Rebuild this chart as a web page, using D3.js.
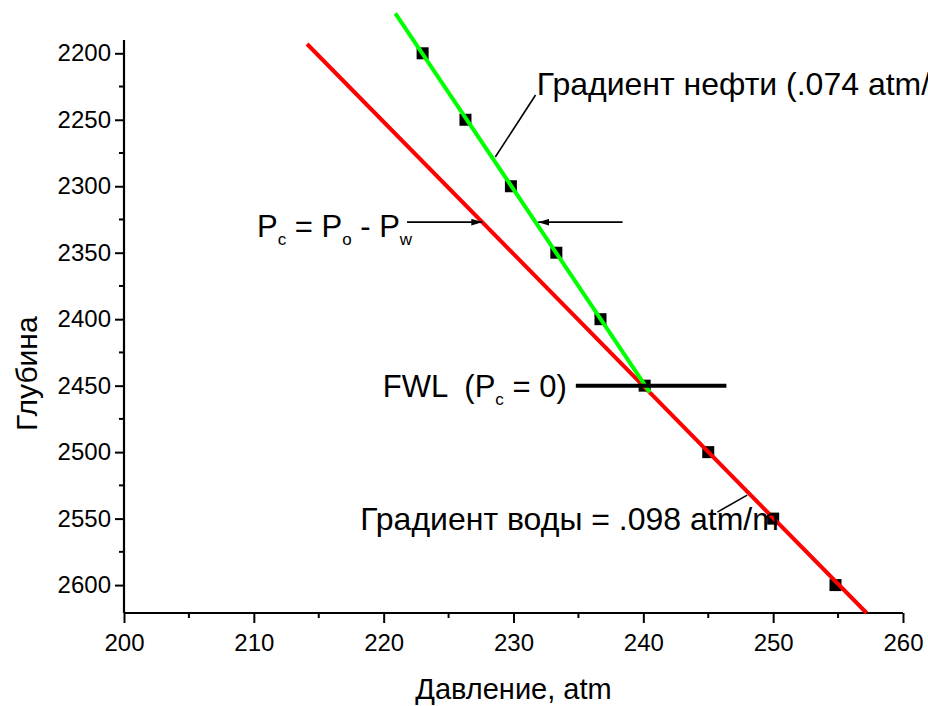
<!DOCTYPE html>
<html><head><meta charset="utf-8">
<script src="https://cdn.jsdelivr.net/npm/d3@7"></script>
<style>
html,body{margin:0;padding:0;background:#fff;overflow:hidden}
text{font-family:"Liberation Sans",Arial,sans-serif;fill:#000}
</style></head>
<body>
<svg id="c" width="928" height="706"></svg>
<script>
// ---- data ----
const depths    = [2200, 2250, 2300, 2350, 2400, 2450, 2500, 2550, 2600];
const pressures = [223.0, 226.3, 229.8, 233.3, 236.7, 240.1, 245.0, 250.0, 254.8];
const oilLineP   = [220.9, 240.5];
const oilLineD   = [2170, 2455];
const waterLineP = [214.1, 257.2];
const waterLineD = [2193, 2621];
const xTicks = [200, 210, 220, 230, 240, 250, 260];
const yTicks = [2200, 2250, 2300, 2350, 2400, 2450, 2500, 2550, 2600];
const xTitle = "Давление, atm";
const yTitle = "Глубина";
const oilLabel = "Градиент нефти (.074 atm/m)";
const waterLabel = "Градиент воды = .098 atm/m";

const svg = d3.select("#c");
const x = d3.scaleLinear().domain([200, 260]).range([124, 903]);
const y = d3.scaleLinear().domain([2190, 2621]).range([40, 613]);

// axes
const xAxis = d3.axisBottom(x).tickValues(xTicks).tickFormat(d3.format("d")).tickSize(10).tickPadding(11);
const yAxis = d3.axisLeft(y).tickValues(yTicks).tickFormat(d3.format("d")).tickSize(9).tickPadding(4);
const gx = svg.append("g").attr("transform", `translate(0,${y(2621)})`).call(xAxis);
const gy = svg.append("g").attr("transform", `translate(${x(200)},0)`).call(yAxis);
[gx, gy].forEach(g => {
  g.select(".domain").attr("stroke", "#000").attr("stroke-width", 2.2);
  g.selectAll(".tick line").attr("stroke", "#000").attr("stroke-width", 2);
  g.selectAll(".tick text").attr("font-size", 24).attr("font-family", "Liberation Sans, Arial, sans-serif").attr("fill", "#000");
});
gx.select(".domain").attr("d", `M${x(200)},0H${x(260)}`);
gy.select(".domain").attr("d", `M0,${y(2190)}V${y(2621)}`);
// minor ticks
const xMinor = d3.range(205, 260, 10);
const yMinor = d3.range(2225, 2600, 50);
gx.selectAll(".minor").data(xMinor).join("line").attr("class", "minor")
  .attr("x1", d => x(d)).attr("x2", d => x(d)).attr("y1", 0).attr("y2", 5)
  .attr("stroke", "#000").attr("stroke-width", 2);
gy.selectAll(".minor").data(yMinor).join("line").attr("class", "minor")
  .attr("y1", d => y(d)).attr("y2", d => y(d)).attr("x1", 0).attr("x2", -5)
  .attr("stroke", "#000").attr("stroke-width", 2);

// titles
svg.append("text").attr("x", (x(200) + x(260)) / 2).attr("y", 699)
  .attr("text-anchor", "middle").attr("font-size", 29).text(xTitle);
svg.append("text").attr("transform", `translate(37,${y(2441)}) rotate(-90)`)
  .attr("text-anchor", "middle").attr("font-size", 30).text(yTitle);

// points
const sq = 12;
svg.selectAll(".pt").data(depths).join("rect").attr("class", "pt")
  .attr("x", (d, i) => x(pressures[i]) - sq / 2).attr("y", d => y(d) - sq / 2)
  .attr("width", sq).attr("height", sq).attr("fill", "#000");

// lines
const line = d3.line().x(d => x(d[0])).y(d => y(d[1]));
svg.append("path").attr("d", line(waterLineP.map((p, i) => [p, waterLineD[i]])))
  .attr("stroke", "#ff0000").attr("stroke-width", 4).attr("fill", "none");
svg.append("path").attr("d", line(oilLineP.map((p, i) => [p, oilLineD[i]])))
  .attr("stroke", "#00ff00").attr("stroke-width", 4).attr("fill", "none");

// arrow marker
const defs = svg.append("defs");
defs.append("marker").attr("id", "ah").attr("viewBox", "0 0 10 6").attr("refX", 10).attr("refY", 3)
  .attr("markerWidth", 11).attr("markerHeight", 7).attr("markerUnits", "userSpaceOnUse").attr("orient", "auto")
  .append("path").attr("d", "M0,0L10,3L0,6Z").attr("fill", "#000");

// annotations
const fs = 32;
// oil label
svg.append("text").attr("x", x(231.8)).attr("y", y(2231.4)).attr("font-size", fs).text(oilLabel);
svg.append("line").attr("x1", x(231.7)).attr("y1", y(2231.4)).attr("x2", x(228.6)).attr("y2", y(2278))
  .attr("stroke", "#000").attr("stroke-width", 1.6);

// Pc = Po - Pw
const pc = svg.append("text").attr("x", x(210.24)).attr("y", y(2338.2)).attr("font-size", 31);
pc.append("tspan").text("P");
pc.append("tspan").attr("font-size", 17).attr("dy", 8).text("c");
pc.append("tspan").attr("dy", -8).text(" = P");
pc.append("tspan").attr("font-size", 17).attr("dy", 8).text("o");
pc.append("tspan").attr("dy", -8).text(" - P");
pc.append("tspan").attr("font-size", 17).attr("dy", 8).text("w");
svg.append("line").attr("x1", x(221.8)).attr("y1", y(2327)).attr("x2", x(227.6)).attr("y2", y(2327))
  .attr("stroke", "#000").attr("stroke-width", 1.6).attr("marker-end", "url(#ah)");
svg.append("line").attr("x1", x(238.4)).attr("y1", y(2327)).attr("x2", x(231.9)).attr("y2", y(2327))
  .attr("stroke", "#000").attr("stroke-width", 1.6).attr("marker-end", "url(#ah)");

// FWL
const fwl = svg.append("text").attr("x", x(234.1)).attr("y", y(2458.5)).attr("text-anchor", "end")
  .attr("font-size", 31).style("white-space", "pre");
fwl.append("tspan").text("FWL  (P");
fwl.append("tspan").attr("font-size", 17).attr("dy", 8).text("c");
fwl.append("tspan").attr("dy", -8).text(" = 0)");
svg.append("line").attr("x1", x(234.8)).attr("y1", y(2450)).attr("x2", x(246.4)).attr("y2", y(2450))
  .attr("stroke", "#000").attr("stroke-width", 4);

// water label
svg.append("text").attr("x", x(218.2)).attr("y", y(2558.6)).attr("font-size", fs).text(waterLabel);
svg.append("line").attr("x1", x(245.7)).attr("y1", y(2545.1)).attr("x2", x(248.0)).attr("y2", y(2532.3))
  .attr("stroke", "#000").attr("stroke-width", 1.6);
</script>
</body></html>
